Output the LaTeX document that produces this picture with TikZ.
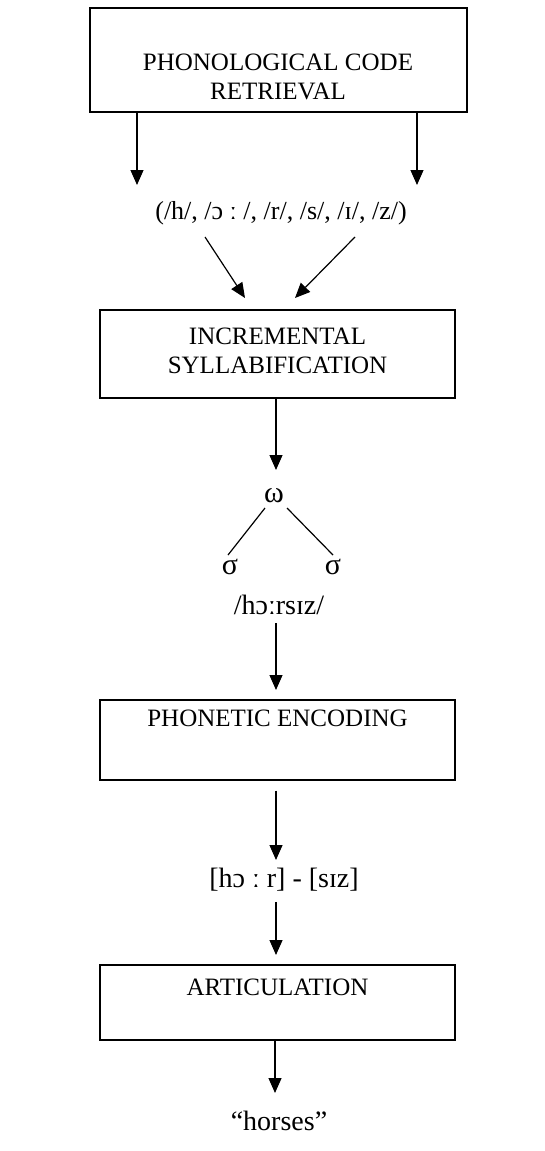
\documentclass[tikz,border=0pt]{standalone}
\usepackage{fontspec}
\setmainfont{Liberation Serif}
\usetikzlibrary{arrows.meta,calc}
\begin{document}
\begin{tikzpicture}[x=1pt,y=-1pt,
  every node/.style={font=\fontsize{25}{29.5}\selectfont, inner sep=0pt},
  form/.style={font=\fontsize{28}{32}\selectfont},
  greek/.style={font=\fontsize{30}{32}\selectfont},
  stage/.style={draw, line width=1.4pt, minimum width=355pt},
  arr/.style={-{Triangle[length=15pt,width=13pt]}, line width=1.2pt},
  branch/.style={line width=1.2pt}]
\useasboundingbox (0,0) rectangle (544,1151);

% stage 1: phonological code retrieval
\node[stage, minimum width=377pt, minimum height=104pt] (b1) at (278.5,60) {};
\node[align=center] (t1) at (278,77) {PHONOLOGICAL CODE\\RETRIEVAL};
\coordinate (p1) at (137,185);
\coordinate (p2) at (417,185);
\draw[arr] (b1.south -| p1) -- (p1);
\draw[arr] (b1.south -| p2) -- (p2);

% retrieved segments
\node[font=\fontsize{26}{30}\selectfont] (ph) at (281,213) {(/h/, /ɔ ː /, /r/, /s/, /ɪ/, /z/)};
\coordinate (d1s) at (205,237);
\coordinate (d1e) at (245,298);
\coordinate (d2s) at (355,237);
\coordinate (d2e) at (295,298);
\draw[arr] (d1s) -- (d1e);
\draw[arr] (d2s) -- (d2e);

% stage 2: syllabification
\node[stage, minimum height=88pt] (b2) at (277.5,354) {};
\node[align=center] (t2) at (277.5,351) {INCREMENTAL\\SYLLABIFICATION};
\coordinate (wt) at (276,470);
\draw[arr] (b2.south -| wt) -- (wt);

% prosodic word with two syllables
\node[greek] (w) at (274,496) {ω};
\node[greek] (s1) at (230,567) {σ};
\node[greek] (s2) at (333,567) {σ};
\draw[branch] ($(w)+(-9,12)$) -- ($(s1)+(-2,-12)$);
\draw[branch] ($(w)+(13,12)$) -- ($(s2)+(0,-12)$);
\node[form] (hz) at (279,605) {/hɔːrsɪz/};
\coordinate (c3) at (276,690);
\draw[arr, shorten <=8pt] (hz.south -| c3) -- (c3);

% stage 3: phonetic encoding
\node[stage, minimum height=80pt] (b3) at (277.5,740) {};
\node (t3) at (277.5,718) {PHONETIC ENCODING};
\coordinate (c4) at (276,860);
\draw[arr, shorten <=10pt] (b3.south -| c4) -- (c4);
\node[form] (ps) at (284,880) {[hɔ ː r] - [sɪz]};
\coordinate (c5) at (276,955);
\draw[arr, shorten <=10pt] (ps.south -| c5) -- (c5);

% stage 4: articulation
\node[stage, minimum height=75pt] (b4) at (277.5,1002.5) {};
\node (t4) at (277.5,987) {ARTICULATION};
\coordinate (c6) at (275,1093);
\draw[arr] (b4.south -| c6) -- (c6);
\node[form] (out) at (279,1121) {“horses”};
\end{tikzpicture}
\end{document}
